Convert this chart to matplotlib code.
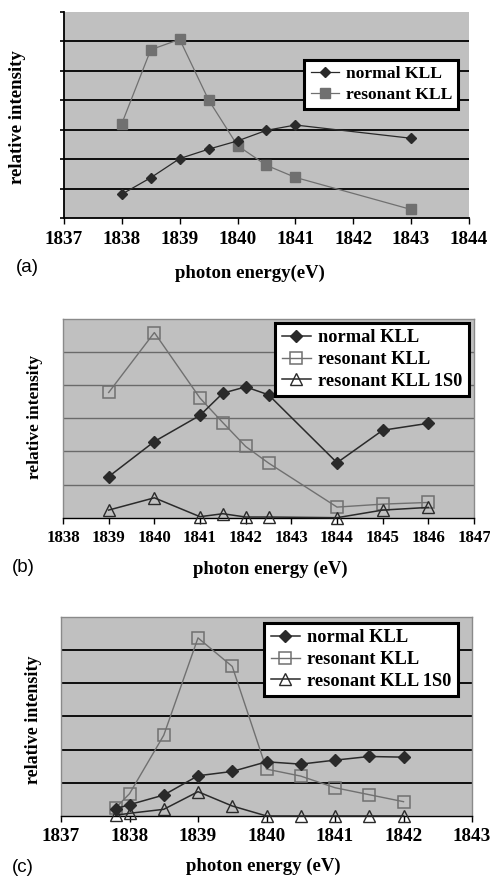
import matplotlib
matplotlib.use('Agg')
import matplotlib.pyplot as plt

plt.rcParams['font.family'] = ['Liberation Serif', 'DejaVu Serif']

# ---- panel (a) ----
a_x = [1838, 1838.5, 1839, 1839.5, 1840, 1840.5, 1841, 1843]
a_normal = [0.81, 1.37, 2.02, 2.34, 2.62, 2.98, 3.16, 2.71]
a_resonant = [3.21, 5.72, 6.07, 4.01, 2.46, 1.79, 1.38, 0.29]
a_ticks = [1837, 1838, 1839, 1840, 1841, 1842, 1843, 1844]

# ---- panel (b) ----
b_x = [1839, 1840, 1841, 1841.5, 1842, 1842.5, 1844, 1845, 1846]
b_normal = [1.24, 2.30, 3.09, 3.76, 3.95, 3.71, 1.66, 2.64, 2.85]
b_resonant = [3.78, 5.59, 3.61, 2.87, 2.15, 1.65, 0.32, 0.41, 0.46]
b_1s0 = [0.23, 0.60, 0.03, 0.12, 0.02, 0.02, 0.0, 0.23, 0.31]
b_ticks = [1838, 1839, 1840, 1841, 1842, 1843, 1844, 1845, 1846, 1847]

# ---- panel (c) ----
c_x = [1837.8, 1838, 1838.5, 1839, 1839.5, 1840, 1840.5, 1841, 1841.5, 1842]
c_normal = [0.22, 0.34, 0.63, 1.21, 1.34, 1.63, 1.56, 1.68, 1.79, 1.77]
c_resonant = [0.25, 0.67, 2.43, 5.36, 4.50, 1.41, 1.20, 0.85, 0.64, 0.43]
c_1s0 = [0.02, 0.08, 0.20, 0.73, 0.30, 0.0, 0.0, 0.0, 0.0, 0.0]
c_ticks = [1837, 1838, 1839, 1840, 1841, 1842, 1843]

BG = '#c0c0c0'
DARK = '#2a2a2a'
GRAY = '#707070'

fig = plt.figure(figsize=(4.9, 8.77), dpi=100)


def setup_axes(ax, ticks, ymax, grid_color, grid_lw, framed, fs):
    ax.set_facecolor(BG)
    ax.set_xlim(ticks[0], ticks[-1])
    ax.set_ylim(0, ymax)
    ax.set_xticks(ticks)
    ax.set_xticklabels([str(t) for t in ticks], fontsize=fs, fontweight='bold')
    for y in range(1, ymax):
        ax.axhline(y, color=grid_color, lw=grid_lw, zorder=1)
    ax.tick_params(axis='x', direction='out', length=4, width=1, color='black', pad=5)
    if framed:
        for s in ['top', 'right', 'left']:
            ax.spines[s].set_color('#8a8a8a')
            ax.spines[s].set_linewidth(1)
        ax.spines['bottom'].set_color('black')
        ax.spines['bottom'].set_linewidth(1)
        ax.set_yticks([])
    else:
        ax.spines['top'].set_visible(False)
        ax.spines['right'].set_visible(False)
        ax.spines['left'].set_linewidth(1.3)
        ax.spines['bottom'].set_linewidth(1.3)
        ax.set_yticks(range(0, ymax + 1))
        ax.set_yticklabels([])
        ax.tick_params(axis='y', direction='out', length=3, width=1.2)


def add_legend(ax, anchor, fs):
    leg = ax.legend(loc='upper right', bbox_to_anchor=anchor, fancybox=False,
                    framealpha=1, facecolor='white', edgecolor='black',
                    prop={'family': 'Liberation Serif', 'weight': 'bold', 'size': fs},
                    handlelength=1.6, handletextpad=0.4, borderpad=0.35,
                    labelspacing=0.25, borderaxespad=0)
    leg.get_frame().set_linewidth(2.2)
    leg.set_zorder(10)


# (a)
ax = fig.add_axes([0.1306, 0.7514, 0.8265, 0.2349])
setup_axes(ax, a_ticks, 7, 'black', 1.3, False, 13.8)
ax.plot(a_x, a_normal, color=DARK, lw=0.9, marker='D', ms=5.5, mfc=DARK, mec=DARK,
        label='normal KLL', zorder=4, clip_on=False)
ax.plot(a_x, a_resonant, color=GRAY, lw=0.9, marker='s', ms=6.5, mfc=GRAY, mec=GRAY,
        label='resonant KLL', zorder=3, clip_on=False)
add_legend(ax, (0.973, 0.767), 12.6)

# (b)
ax = fig.add_axes([0.1286, 0.4097, 0.8388, 0.2266])
setup_axes(ax, b_ticks, 6, '#6a6a6a', 1.0, True, 12.2)
ax.plot(b_x, b_normal, color=DARK, lw=1.1, marker='D', ms=6, mfc=DARK, mec=DARK,
        label='normal KLL', zorder=4, clip_on=False)
ax.plot(b_x, b_resonant, color=GRAY, lw=1.0, marker='s', ms=8, mfc='none', mec=GRAY,
        mew=1.1, label='resonant KLL', zorder=3, clip_on=False)
ax.plot(b_x, b_1s0, color=DARK, lw=1.1, marker='^', ms=8.5, mfc='none', mec=DARK,
        mew=1.0, label='resonant KLL 1S0', zorder=5, clip_on=False)
add_legend(ax, (0.988, 0.98), 13.2)

# (c)
ax = fig.add_axes([0.1245, 0.0696, 0.8388, 0.2273])
setup_axes(ax, c_ticks, 6, 'black', 1.3, True, 13.8)
ax.plot(c_x, c_normal, color=DARK, lw=1.1, marker='D', ms=6, mfc=DARK, mec=DARK,
        label='normal KLL', zorder=4, clip_on=False)
ax.plot(c_x, c_resonant, color=GRAY, lw=1.0, marker='s', ms=8, mfc='none', mec=GRAY,
        mew=1.1, label='resonant KLL', zorder=3, clip_on=False)
ax.plot(c_x, c_1s0, color=DARK, lw=1.1, marker='^', ms=8.5, mfc='none', mec=DARK,
        mew=1.0, label='resonant KLL 1S0', zorder=5, clip_on=False)
add_legend(ax, (0.966, 0.968), 13.2)

# axis titles and panel tags
lab = dict(fontweight='bold', fontsize=13.5, family='Liberation Serif')
fig.text(250 / 490, 1 - 273 / 877, 'photon energy(eV)', ha='center', va='center', **lab)
fig.text(270 / 490, 1 - 569 / 877, 'photon energy (eV)', ha='center', va='center', **lab)
fig.text(263 / 490, 1 - 866 / 877, 'photon energy (eV)', ha='center', va='center', **lab)
fig.text(18 / 490, 1 - 117 / 877, 'relative intensity', rotation=90, ha='center', va='center', **lab)
fig.text(35 / 490, 1 - 417 / 877, 'relative intensity', rotation=90, ha='center', va='center',
         fontweight='bold', fontsize=12.5, family='Liberation Serif')
fig.text(33 / 490, 1 - 720 / 877, 'relative intensity', rotation=90, ha='center', va='center',
         fontweight='bold', fontsize=13, family='Liberation Serif')

tag = dict(fontsize=13.5, family='Liberation Sans', ha='center', va='center')
fig.text(27 / 490, 1 - 267 / 877, '(a)', **tag)
fig.text(23 / 490, 1 - 568 / 877, '(b)', **tag)
fig.text(23 / 490, 1 - 867 / 877, '(c)', **tag)

fig.savefig('out.png', dpi=100)
